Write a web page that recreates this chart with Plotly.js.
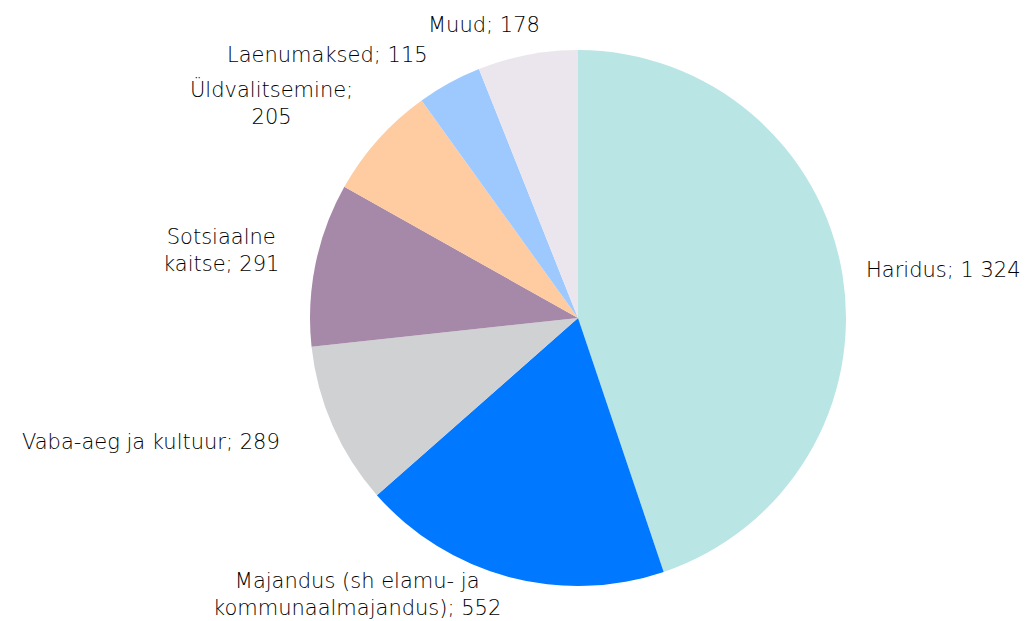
<!DOCTYPE html>
<html>
<head>
<meta charset="utf-8">
<script src="https://cdn.plot.ly/plotly-3.0.1.min.js"></script>
<style>html,body{margin:0;padding:0;background:#fff;}#chart{width:1027px;height:621px;}</style>
</head>
<body>
<div id="chart"></div>
<script>
const categories = ["Haridus", "Majandus (sh elamu- ja kommunaalmajandus)", "Vaba-aeg ja kultuur", "Sotsiaalne kaitse", "Üldvalitsemine", "Laenumaksed", "Muud"];
const values = [1324, 552, 289, 291, 205, 115, 178];
const labelTexts = ["Haridus; 1 324", "Majandus (sh elamu- ja<br>kommunaalmajandus); 552", "Vaba-aeg ja kultuur; 289", "Sotsiaalne<br>kaitse; 291", "Üldvalitsemine;<br>205", "Laenumaksed; 115", "Muud; 178"];
const colors = ["#b9e5e5", "#0078ff", "#d0d1d3", "#a688a8", "#ffcba0", "#9ec9ff", "#ebe6ed"];

// label anchor positions in pixels (x, y, xanchor)
const labelPos = [
  [864, 270, "left"],
  [357, 594, "center"],
  [151, 442, "center"],
  [221, 250, "center"],
  [271, 103, "center"],
  [327, 55, "center"],
  [484, 25, "center"]
];
const W = 1027, H = 621;
const annotations = labelTexts.map((t, i) => ({
  text: t,
  x: labelPos[i][0] / W,
  y: 1 - labelPos[i][1] / H,
  xref: "paper", yref: "paper",
  xanchor: labelPos[i][2], yanchor: "middle",
  align: "center",
  showarrow: false,
  font: {family: "'DejaVu Sans', sans-serif", size: 21, weight: 200, color: "#000000"}
}));

const cx = 578, cy = 318, r = 268;
const trace = {
  type: "pie",
  labels: categories,
  values: values,
  sort: false,
  direction: "clockwise",
  rotation: 0,
  marker: {colors: colors, line: {width: 0}},
  textinfo: "none",
  hoverinfo: "label+value",
  domain: {x: [(cx - r) / W, (cx + r) / W], y: [1 - (cy + r) / H, 1 - (cy - r) / H]}
};
const layout = {
  width: W, height: H,
  margin: {l: 0, r: 0, t: 0, b: 0},
  showlegend: false,
  paper_bgcolor: "#fff",
  annotations: annotations
};
Plotly.newPlot("chart", [trace], layout, {displayModeBar: false, staticPlot: true});
</script>
</body>
</html>
